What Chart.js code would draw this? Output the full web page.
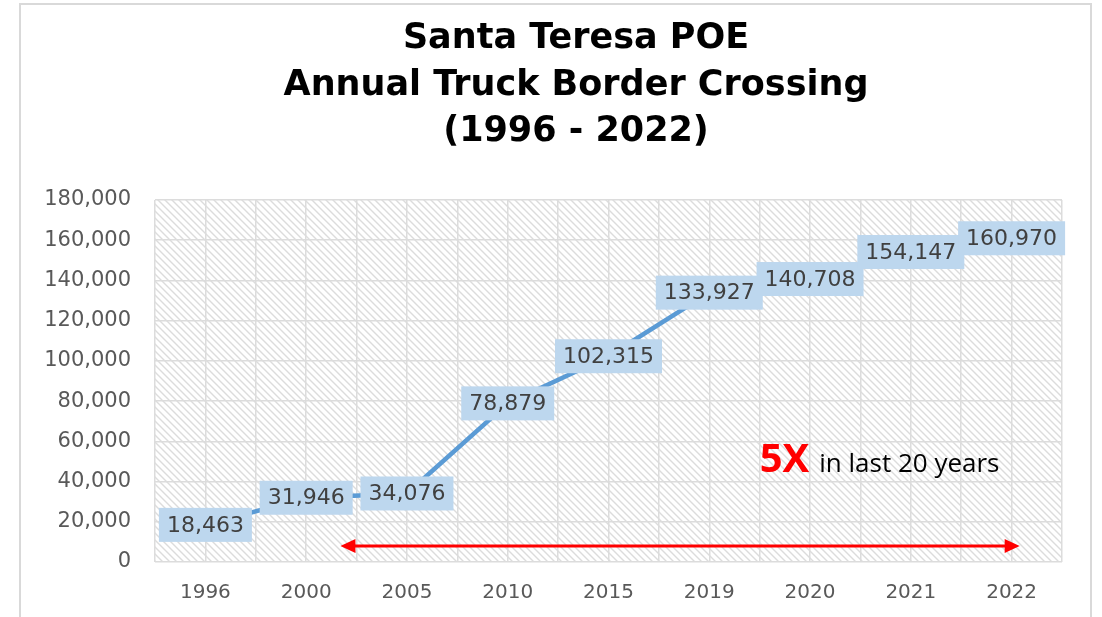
<!DOCTYPE html>
<html>
<head>
<meta charset="utf-8">
<script src="https://cdn.jsdelivr.net/npm/chart.js@4.4.0/dist/chart.umd.min.js"></script>
<style>
html,body{margin:0;padding:0;background:#fff;}
#wrap{width:1102px;height:617px;position:relative;}
</style>
</head>
<body>
<div id="wrap"><canvas id="c" width="1102" height="617"></canvas></div>
<script>
const categories = ['1996','2000','2005','2010','2015','2019','2020','2021','2022'];
const crossings = [18463, 31946, 34076, 78879, 102315, 133927, 140708, 154147, 160970];
const titleLines = ['Santa Teresa POE', 'Annual Truck Border Crossing', '(1996 - 2022)'];
const yTickStep = 20000;
const yMax = 180000;
// annotation: arrow spans half-category units (x2 axis), at value arrowY
const arrowFrom = 3.68, arrowTo = 17.16, arrowY = 8000;
const noteX = 12, noteY = 45000;
const noteBig = '5X', noteSmall = 'in last 20 years';

function makePattern(ctx){
  const p = document.createElement('canvas');
  p.width = 7; p.height = 7;
  const g = p.getContext('2d');
  g.fillStyle = '#ffffff'; g.fillRect(0,0,7,7);
  g.strokeStyle = '#dcdcdc'; g.lineWidth = 1.4;
  g.beginPath();
  g.moveTo(-1,-1); g.lineTo(8,8);
  g.moveTo(-1,6); g.lineTo(1,8);
  g.moveTo(6,-1); g.lineTo(8,1);
  g.stroke();
  return ctx.createPattern(p, 'repeat');
}

const decor = {
  id: 'decor',
  beforeDraw(chart){
    const {ctx, chartArea:a} = chart;
    ctx.save();
    ctx.strokeStyle = '#d9d9d9'; ctx.lineWidth = 2;
    ctx.strokeRect(20, 4, 1071, 640);
    ctx.fillStyle = makePattern(ctx);
    ctx.fillRect(a.left, a.top, a.right - a.left, a.bottom - a.top);
    // title
    ctx.fillStyle = '#000000';
    ctx.font = 'bold 35px "DejaVu Sans"';
    ctx.textAlign = 'center'; ctx.textBaseline = 'middle';
    titleLines.forEach((t, i) => ctx.fillText(t, 576, 39 + i * 46.5));
    ctx.restore();
  },
  afterDatasetsDraw(chart){
    const {ctx} = chart;
    const meta = chart.getDatasetMeta(0);
    ctx.save();
    ctx.font = '22px "DejaVu Sans"';
    ctx.textAlign = 'center'; ctx.textBaseline = 'middle';
    meta.data.forEach((pt, i) => {
      const txt = crossings[i].toLocaleString('en-US');
      const w = ctx.measureText(txt).width + 16;
      const h = 34;
      ctx.fillStyle = '#bdd7ee';
      ctx.fillRect(pt.x - w/2, pt.y - h/2, w, h);
      ctx.fillStyle = '#404040';
      ctx.fillText(txt, pt.x, pt.y + 1);
    });
    // arrow
    const x2 = chart.scales.x2, y = chart.scales.y;
    const ax1 = x2.getPixelForValue(arrowFrom), ax2 = x2.getPixelForValue(arrowTo);
    const ay = y.getPixelForValue(arrowY);
    ctx.strokeStyle = '#ff0000'; ctx.fillStyle = '#ff0000'; ctx.lineWidth = 3;
    ctx.beginPath(); ctx.moveTo(ax1 + 12, ay); ctx.lineTo(ax2 - 12, ay); ctx.stroke();
    ctx.beginPath(); ctx.moveTo(ax1, ay); ctx.lineTo(ax1 + 15, ay - 7); ctx.lineTo(ax1 + 15, ay + 7); ctx.closePath(); ctx.fill();
    ctx.beginPath(); ctx.moveTo(ax2, ay); ctx.lineTo(ax2 - 15, ay - 7); ctx.lineTo(ax2 - 15, ay + 7); ctx.closePath(); ctx.fill();
    // note
    const nx = x2.getPixelForValue(noteX), ny = y.getPixelForValue(noteY);
    ctx.textAlign = 'left'; ctx.textBaseline = 'alphabetic';
    ctx.font = 'bold 40px "Open Sans"';
    ctx.fillStyle = '#ff0000';
    ctx.fillText(noteBig, nx, ny);
    const bw = ctx.measureText(noteBig).width;
    ctx.font = '26px "Open Sans"';
    ctx.fillStyle = '#000000';
    ctx.fillText(noteSmall, nx + bw + 10, ny);
    ctx.restore();
  }
};

new Chart(document.getElementById('c'), {
  type: 'line',
  data: {
    labels: categories,
    datasets: [{
      data: crossings,
      borderColor: '#5b9bd5',
      borderWidth: 4.5,
      pointRadius: 0,
      tension: 0,
      fill: false
    }]
  },
  options: {
    responsive: false,
    animation: false,
    layout: { padding: { left: 20, right: 40, top: 200, bottom: 0 } },
    plugins: {
      legend: { display: false },
      tooltip: { enabled: false },
      title: { display: false }
    },
    scales: {
      x: {
        offset: true,
        grid: { display: false, drawTicks: false },
        border: { display: false },
        ticks: { color: '#595959', font: { family: '"DejaVu Sans"', size: 20 }, padding: 19, maxRotation: 0 },
        afterFit(s){ s.height = 55; }
      },
      x2: {
        type: 'linear', position: 'top', min: 0, max: 18,
        grid: { color: '#dcdcdc', lineWidth: 1.5, drawTicks: false },
        border: { display: false },
        ticks: { display: false, stepSize: 1 },
        afterFit(s){ s.height = 0; }
      },
      y: {
        min: 0, max: yMax,
        grid: { color: '#dcdcdc', lineWidth: 1.5, drawTicks: false },
        border: { display: false },
        ticks: {
          stepSize: yTickStep,
          color: '#595959',
          font: { family: '"DejaVu Sans"', size: 21 },
          padding: 24,
          callback: v => v.toLocaleString('en-US')
        },
        afterFit(s){ s.width = 135; }
      }
    }
  },
  plugins: [decor]
});
</script>
</body>
</html>
